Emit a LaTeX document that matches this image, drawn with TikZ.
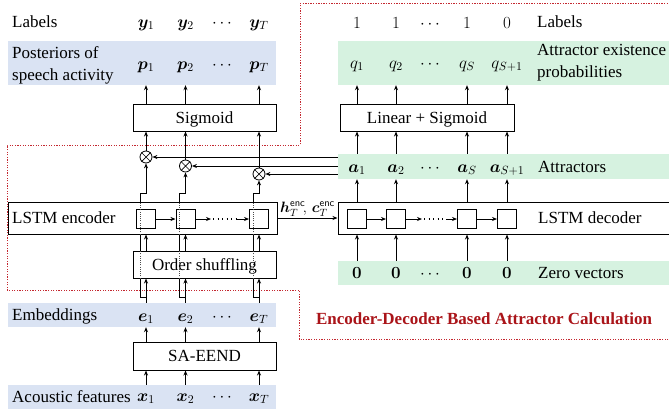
\RequirePackage{fix-cm}
\documentclass[tikz,border=0pt]{standalone}
\usepackage{bm}
\usepackage{fontspec}
\setmainfont{Liberation Serif}
\usetikzlibrary{arrows.meta,calc}
\definecolor{rowblue}{RGB}{218,227,243}
\definecolor{rowgreen}{RGB}{214,242,224}
\definecolor{edared}{RGB}{196,40,48}
\definecolor{titlered}{RGB}{170,20,25}
\begin{document}
\begin{tikzpicture}[x=1pt,y=-1pt,
  every node/.style={font=\fontsize{17}{21.5}\selectfont},
  arr/.style={-{Stealth[length=5pt,width=4pt]}, line width=0.8pt},
  conn/.style={line width=0.8pt},
  box/.style={draw, line width=1pt, fill=white, inner sep=0pt, text height=11.5pt, text depth=0pt},
  cell/.style={draw, line width=1pt, fill=white, minimum size=19pt, inner sep=0pt},
  bluerow/.style={fill=rowblue, inner sep=0pt},
  greenrow/.style={fill=rowgreen, inner sep=0pt},
  lab/.style={anchor=base, inner sep=0pt},
  rowtxt/.style={anchor=base west, inner sep=0pt},
  prod/.style={draw, circle, line width=0.8pt, minimum size=12pt, inner sep=0pt, fill=white},
  bypass/.style={line width=0.8pt, black!70, dash pattern=on 1pt off 1.2pt},
  chaindots/.style={line width=1.3pt, dash pattern=on 1.3pt off 3.2pt},
  region/.style={draw=edared, line width=0.9pt, dash pattern=on 1.3pt off 1.3pt}
]
\useasboundingbox (0,0) rectangle (669,413);
\clip (0,0) rectangle (669,413);

% region of the encoder-decoder attractor calculation
\draw[region] (300,3) -- (675,3) -- (675,339) -- (299,339) -- (299,290) -- (7,290) -- (7,145) -- (300,145) -- cycle;

% coloured rows
\node[bluerow, minimum width=268, minimum height=44] (prow) at (142,63) {};
\node[bluerow, minimum width=268, minimum height=24] (erow) at (142,315) {};
\node[bluerow, minimum width=268, minimum height=24] (xrow) at (142,397) {};
\node[greenrow, minimum width=340, minimum height=44] (qrow) at (508,63) {};
\node[greenrow, minimum width=340, minimum height=25] (arow) at (508,166.5) {};
\node[greenrow, minimum width=340, minimum height=24] (zrow) at (508,273) {};

% boxes
\node[box, minimum width=143, minimum height=27] (sig) at (204.5,117.5) {Sigmoid};
\node[box, minimum width=174, minimum height=27] (lin) at (427,117.5) {Linear + Sigmoid};
\node[box, minimum width=269, minimum height=32] (enc) at (142.5,218) {};
\node[box, minimum width=340, minimum height=32] (dec) at (508,218) {};
\node[box, minimum width=143, minimum height=27] (shuf) at (204.5,264.5) {Order shuffling};
\node[box, minimum width=143, minimum height=28] (sa) at (204.5,356) {SA-EEND};

% row texts
\node[rowtxt] (tlabL) at (12,27) {Labels};
\node[anchor=west, align=left, inner sep=0pt] (tpost) at (12,65.5) {Posteriors of\\speech activity};
\node[rowtxt] (tenc) at (12,223) {LSTM encoder};
\node[rowtxt] (temb) at (12,320) {Embeddings};
\node[rowtxt] (tac) at (12,402) {Acoustic features};
\node[rowtxt] (tlabR) at (537,27) {Labels};
\node[anchor=west, align=left, inner sep=0pt] (texist) at (537,62.5) {Attractor existence\\probabilities};
\node[rowtxt] (tatt) at (538,172) {Attractors};
\node[rowtxt] (tdec) at (538,223) {LSTM decoder};
\node[rowtxt] (tzero) at (538,278) {Zero vectors};

% column coordinates
\coordinate (cL1) at (146,0);
\coordinate (cL2) at (185.5,0);
\coordinate (cLT) at (259,0);
\coordinate (cR1) at (357,0);
\coordinate (cR2) at (396,0);
\coordinate (cR3) at (467,0);
\coordinate (cR4) at (507,0);

% left column symbols
\foreach \x/\s in {146/1, 185.5/2, 259/T} {
  \node[lab] (y\s) at (\x,27) {$\bm{y}_{\s}$};
  \node[lab] (p\s) at (\x,69) {$\bm{p}_{\s}$};
  \node[lab] (e\s) at (\x,321) {$\bm{e}_{\s}$};
  \node[lab] (x\s) at (\x,401) {$\bm{x}_{\s}$};
}
\node[lab] (ydots) at (222,27) {$\cdots$};
\node[lab] (pdots) at (222,69) {$\cdots$};
\node[lab] (edots) at (222,321) {$\cdots$};
\node[lab] (xdots) at (222,401) {$\cdots$};

% right column symbols
\foreach \x/\l/\s/\i in {357/1/1/1, 396/1/2/2, 467/1/S/3, 507/0/{S+1}/4} {
  \node[lab] (l\i) at (\x,28) {$\l$};
  \node[lab] (q\i) at (\x,68) {$q_{\s}$};
  \node[lab] (a\i) at (\x,172) {$\bm{a}_{\s}$};
  \node[lab] (z\i) at (\x,278) {$\bm{0}$};
}
\node[lab] (ldots) at (430,28) {$\cdots$};
\node[lab] (qdots) at (430,68) {$\cdots$};
\node[lab] (adots) at (430,172) {$\cdots$};
\node[lab] (zdots) at (430,278) {$\cdots$};

% LSTM cells
\node[cell] (ec1) at (146,219) {};
\node[cell] (ec2) at (185.5,219) {};
\node[cell] (ecT) at (259,219) {};
\node[cell] (dc1) at (357,219) {};
\node[cell] (dc2) at (396,219) {};
\node[cell] (dc3) at (467,219) {};
\node[cell] (dc4) at (507,219) {};

\draw[arr] (ec1) -- (ec2);
\coordinate (ed1) at (211,219);
\coordinate (ed2) at (236,219);
\draw[arr] (ec2.east) -- (ed1);
\draw[chaindots] ($(ed1)+(2,0)$) -- (ed2);
\draw[arr] (ed2) -- (ecT.west);

\draw[arr] (dc1) -- (dc2);
\coordinate (dd1) at (422,219);
\coordinate (dd2) at (446,219);
\draw[arr] (dc2.east) -- (dd1);
\draw[chaindots] ($(dd1)+(2,0)$) -- (dd2);
\draw[arr] (dd2) -- (dc3.west);
\draw[arr] (dc3) -- (dc4);

% encoder final states to decoder
\draw[arr] (enc.east) -- node[above, inner sep=1.5pt, font=\fontsize{15}{18}\selectfont] (hc) {$\bm{h}_T^{\mathsf{enc}}\!,\,\bm{c}_T^{\mathsf{enc}}$} (dec.west);

% left vertical arrows
\foreach \c in {cL1,cL2,cLT} {
  \draw[arr] (xrow.north -| \c) -- (sa.south -| \c);
  \draw[arr] (sa.north -| \c) -- (erow.south -| \c);
  \draw[arr] (erow.north -| \c) -- (shuf.south -| \c);
  \draw[arr] (shuf.north -| \c) -- (enc.south -| \c);
  \draw[arr] (sig.north -| \c) -- (prow.south -| \c);
}
% right vertical arrows
\foreach \c in {cR1,cR2,cR3,cR4} {
  \draw[arr] (zrow.north -| \c) -- (dec.south -| \c);
  \draw[arr] (dec.north -| \c) -- (arow.south -| \c);
  \draw[arr] (arow.north -| \c) -- (lin.south -| \c);
  \draw[arr] (lin.north -| \c) -- (qrow.south -| \c);
}

% products
\node[prod] (ot1) at (146,157) {};
\node[prod] (ot2) at (185.5,166) {};
\node[prod] (otT) at (259,174) {};
\foreach \o in {ot1,ot2,otT} {
  \draw[line width=0.7pt] (\o.45) -- (\o.225) (\o.135) -- (\o.315);
  \draw[arr] (\o.north) -- (sig.south -| \o);
  \draw[arr] (arow.west |- \o) -- (\o.east);
}

% embedding bypass to the products
\foreach \L/\B/\o/\i in {146/140/ot1/1, 185.5/179.5/ot2/2, 259/253/otT/T} {
  \coordinate (br\i) at (\L,297);
  \coordinate (bb\i) at (\B,297);
  \coordinate (bt\i) at (\B,193);
  \coordinate (bj\i) at (\L,193);
  \draw[conn] (br\i) -- (bb\i) -- (bb\i |- shuf.south);
  \draw[bypass] (bb\i |- shuf.south) -- (bb\i |- shuf.north);
  \draw[conn] (bb\i |- shuf.north) -- (bb\i |- enc.south);
  \draw[bypass] (bb\i |- enc.south) -- (bb\i |- enc.north);
  \draw[arr] (bb\i |- enc.north) -- (bt\i) -- (bj\i) -- (\o.south);
}

% title
\node[anchor=base, inner sep=0pt, text=titlered, font=\bfseries\fontsize{17}{20}\selectfont] (title) at (484,324) {Encoder-Decoder Based Attractor Calculation};
\end{tikzpicture}
\end{document}
